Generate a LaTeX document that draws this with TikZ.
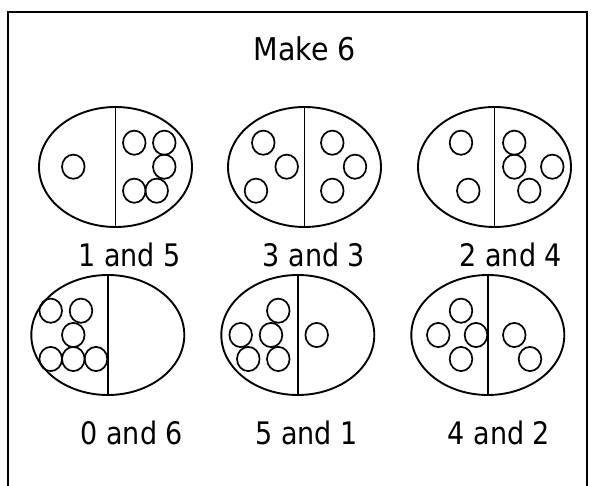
\documentclass[tikz,border=0pt]{standalone}
\usepackage{fontspec}
\usepackage{graphicx}
\setmainfont{DejaVu Sans}
\newcommand\eggpair[2]{%
  \draw[bigoval] (#1,#2) ellipse [x radius=76.5, y radius=60];
  \draw[bigoval] (#1,#2-60) -- (#1,#2+60);}
\newcommand\bead[2]{\draw[beadline] (#1,#2) ellipse [x radius=11.3, y radius=12.1];}
\begin{document}
\begin{tikzpicture}[x=1pt,y=-1pt,
  bigoval/.style={line width=1.9pt},
  beadline/.style={line width=1.7pt},
  lbl/.style={anchor=base, inner sep=0pt, font=\fontsize{27}{30}\selectfont},
  ttl/.style={anchor=base, inner sep=0pt, font=\fontsize{28.5}{32}\selectfont}]
\useasboundingbox (0,0) rectangle (595,486);
% frame
\draw[line width=2pt] (8.3,486) -- (8.3,12.3) -- (587,12.3) -- (587,486);
% title
\node[ttl] (title) at (304.6,61) {\scalebox{1}[1.1]{Make 6}};
% row 1
\eggpair{115.5}{167}
\bead{73.3}{166.7}
\bead{134.3}{142.7}\bead{164.3}{142.7}\bead{164.3}{166.7}
\bead{134.3}{190.7}\bead{156.7}{190.7}
\eggpair{304.5}{167}
\bead{263.3}{142.7}\bead{286.7}{166.7}\bead{256}{190.7}
\bead{332.3}{142.7}\bead{355}{166.7}\bead{332.3}{190.7}
\eggpair{494.5}{167}
\bead{461}{142.7}\bead{468.3}{190.7}
\bead{514.3}{142.7}\bead{514.3}{166.7}\bead{552.3}{166.7}\bead{529.3}{190.7}
\node[lbl] (l1) at (129.6,267) {\scalebox{1}[1.15]{1 and 5}};
\node[lbl] (l2) at (314,267) {\scalebox{1}[1.15]{3 and 3}};
\node[lbl] (l3) at (510.8,267) {\scalebox{1}[1.15]{2 and 4}};
% row 2
\eggpair{107.8}{335}
\bead{50.7}{310.7}\bead{81}{310.7}\bead{73.3}{335}
\bead{50.7}{359}\bead{73.3}{359}\bead{96}{359}
\eggpair{297.8}{335}
\bead{278.3}{310.7}\bead{240.7}{335}\bead{271}{335}
\bead{248.3}{359}\bead{278.3}{359}
\bead{316.7}{335}
\eggpair{487.8}{335}
\bead{461}{310.7}\bead{438.3}{335}\bead{476}{335}\bead{461}{359}
\bead{514.3}{335}\bead{530}{359}
\node[lbl] (l4) at (131.8,445) {\scalebox{1}[1.15]{0 and 6}};
\node[lbl] (l5) at (306.6,445) {\scalebox{1}[1.15]{5 and 1}};
\node[lbl] (l6) at (499,445) {\scalebox{1}[1.15]{4 and 2}};
\end{tikzpicture}
\end{document}
